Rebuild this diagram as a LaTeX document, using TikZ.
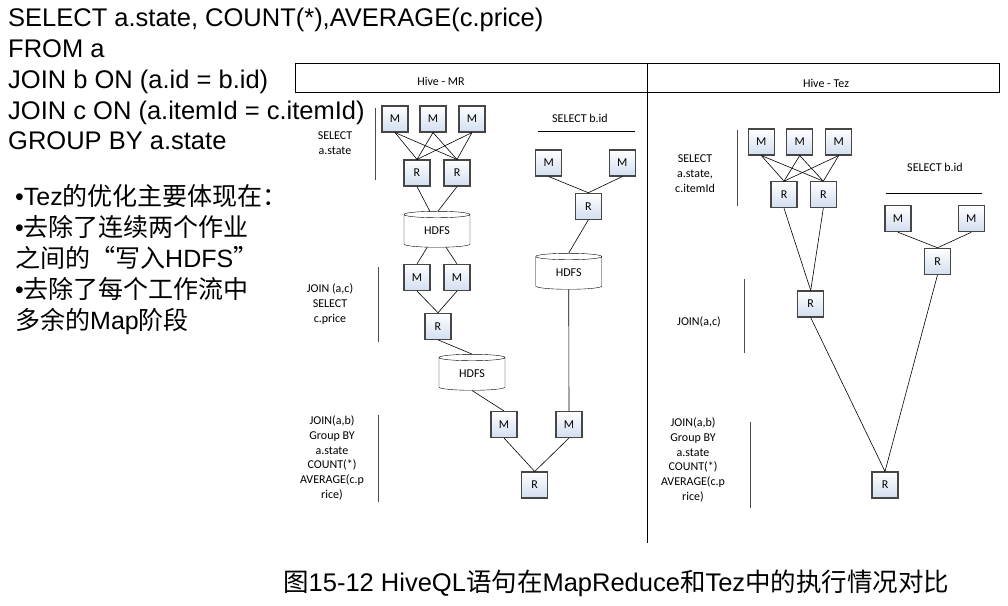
\documentclass[tikz,border=0pt]{standalone}
\usepackage{fontspec}
\setmainfont{Liberation Sans}
\newfontfamily\zh{Noto Sans CJK SC}
\newfontfamily\lbl{Carlito}
\usetikzlibrary{shapes.geometric}
\definecolor{boxbot}{RGB}{210,222,240}
\definecolor{boxline}{RGB}{70,70,70}

\begin{document}
\begin{tikzpicture}[x=1pt,y=-1pt,
    small/.style={font=\lbl\fontsize{12}{14.7}\selectfont},
    box/.style={font=\lbl\fontsize{12}{13}\selectfont, draw=boxline, line width=1.1pt, top color=white, bottom color=boxbot,
      minimum size=26pt, inner sep=0pt},
    db/.style={small, cylinder, shape border rotate=90, draw, aspect=0.25,
      minimum width=66pt, minimum height=36pt, inner sep=0pt},
    note/.style={small, align=center},
    bar/.style={black!70, line width=0.8pt},
    link/.style={line width=0.6pt}]
  \useasboundingbox (0,0) rectangle (1008,605);

  \node[anchor=north west, inner sep=0pt, align=left, font=\fontsize{25.5}{30.8}\selectfont] (sql) at (8,8)
    {SELECT a.state, COUNT(*),AVERAGE(c.price)\\FROM a\\JOIN b ON (a.id = b.id)\\JOIN c ON (a.itemId = c.itemId)\\GROUP BY a.state};
  \node[anchor=north west, inner sep=0pt, align=left, font=\fontsize{25}{31}\selectfont] (tips) at (15,184)
    {•Tez{\zh 的优化主要体现在：}\\•{\zh 去除了连续两个作业}\\{\zh 之间的“写入}HDFS{\zh ”}\\•{\zh 去除了每个工作流中}\\{\zh 多余的}Map{\zh 阶段}};
  \node[anchor=base west, inner sep=0pt, font=\fontsize{25.5}{30}\selectfont] (cap) at (283,591)
    {{\zh 图}15-12 HiveQL{\zh 语句在}MapReduce{\zh 和}Tez{\zh 中的执行情况对比}};

  \draw (295,63) rectangle (999,92);
  \draw (647,63) -- (647,543);
  \node[small] (mrtitle) at (441,81) {Hive - MR};
  \node[small] (teztitle) at (826,83) {Hive - Tez};

  % Hive - MR
  \foreach \x [count=\i] in {395,433,472} \node[box] (mrM\i) at (\x,119) {M};
  \foreach \x [count=\i] in {417,457} \node[box] (mrR\i) at (\x,173) {R};
  \foreach \i in {1,2,3} \foreach \j in {1,2} \draw[link] (mrM\i.south) -- (mrR\j.north);
  \node[db] (mrH1) at (437,231) {HDFS};
  \draw[link] (mrR1.south) -- (mrH1.110);
  \draw[link] (mrR2.south) -- (mrH1.87);
  \node[box] (mrM4) at (417,277.5) {M};
  \node[box] (mrM5) at (457,277.5) {M};
  \draw[link] (mrH1.239) -- (mrM4.north);
  \draw[link] (mrH1.299) -- (mrM5.north);
  \node[box] (mrR3) at (438,326.3) {R};
  \draw[link] (mrM4.south) -- (mrR3.north);
  \draw[link] (mrM5.south) -- (mrR3.north);
  \node[db] (mrH2) at (472,374) {HDFS};
  \draw[link] (mrR3.south) -- (mrH2.north);
  \node[box] (mrM6) at (504,424.5) {M};
  \node[box] (mrM7) at (569,424.5) {M};
  \draw[link] (mrH2.south) -- (mrM6.north);
  \node[box] (mrR4) at (534.7,485) {R};
  \draw[link] (mrM6.south) -- (mrR4.north);
  \draw[link] (mrM7.south) -- (mrR4.north);
  \node[small] (mrsel) at (580,118) {SELECT b.id};
  \draw[link] (538,131) -- (635,131);
  \node[box] (mrM8) at (548.7,163) {M};
  \node[box] (mrM9) at (622.3,163) {M};
  \node[box] (mrR5) at (588.3,206.3) {R};
  \draw[link] (mrM8.south) -- (mrR5.north);
  \draw[link] (mrM9.south) -- (mrR5.north);
  \node[db] (mrH3) at (568.7,273) {HDFS};
  \draw[link] (mrR5.south) -- (mrH3.north);
  \draw[link] (mrH3.south) -- (mrM7.north);
  \node[note] (mrstep1) at (335,143) {SELECT\\a.state};
  \draw[bar] (375,108) -- (375,180);
  \node[note] (mrstep2) at (330,304) {JOIN (a,c)\\SELECT\\c.price};
  \draw[bar] (378,267) -- (378,342);
  \node[note] (mrstep3) at (332,458) {JOIN(a,b)\\Group BY\\a.state\\COUNT(*)\\AVERAGE(c.p\\rice)};
  \draw[bar] (378,415) -- (378,502);

  % Hive - Tez
  \foreach \x [count=\i] in {761.3,799.7,838.7} \node[box] (tzM\i) at (\x,142) {M};
  \foreach \x [count=\i] in {784,823.3} \node[box] (tzR\i) at (\x,194.7) {R};
  \foreach \i in {1,2,3} \foreach \j in {1,2} \draw[link] (tzM\i.south) -- (tzR\j.north);
  \node[box] (tzR4) at (810.7,304) {R};
  \draw[link] (tzR1.south) -- (tzR4.north);
  \draw[link] (tzR2.south) -- (tzR4.north);
  \node[small] (tzsel) at (935,167) {SELECT b.id};
  \draw[link] (886,193) -- (982,193);
  \node[box] (tzM4) at (898,218.7) {M};
  \node[box] (tzM5) at (971.3,218.7) {M};
  \node[box] (tzR3) at (937.5,261.3) {R};
  \draw[link] (tzM4.south) -- (tzR3.north);
  \draw[link] (tzM5.south) -- (tzR3.north);
  \node[box] (tzR5) at (885,485) {R};
  \draw[link] (tzR4.south) -- (tzR5.north);
  \draw[link] (tzR3.south) -- (tzR5.north);
  \node[note] (tzstep1) at (695,173.5) {SELECT\\a.state,\\c.itemId};
  \draw[bar] (737,130) -- (737,206);
  \node[note] (tzstep2) at (699,322) {JOIN(a,c)};
  \draw[bar] (744,279) -- (744,353);
  \node[note] (tzstep3) at (693,460) {JOIN(a,b)\\Group BY\\a.state\\COUNT(*)\\AVERAGE(c.p\\rice)};
  \draw[bar] (750,422) -- (750,508);
\end{tikzpicture}
\end{document}
